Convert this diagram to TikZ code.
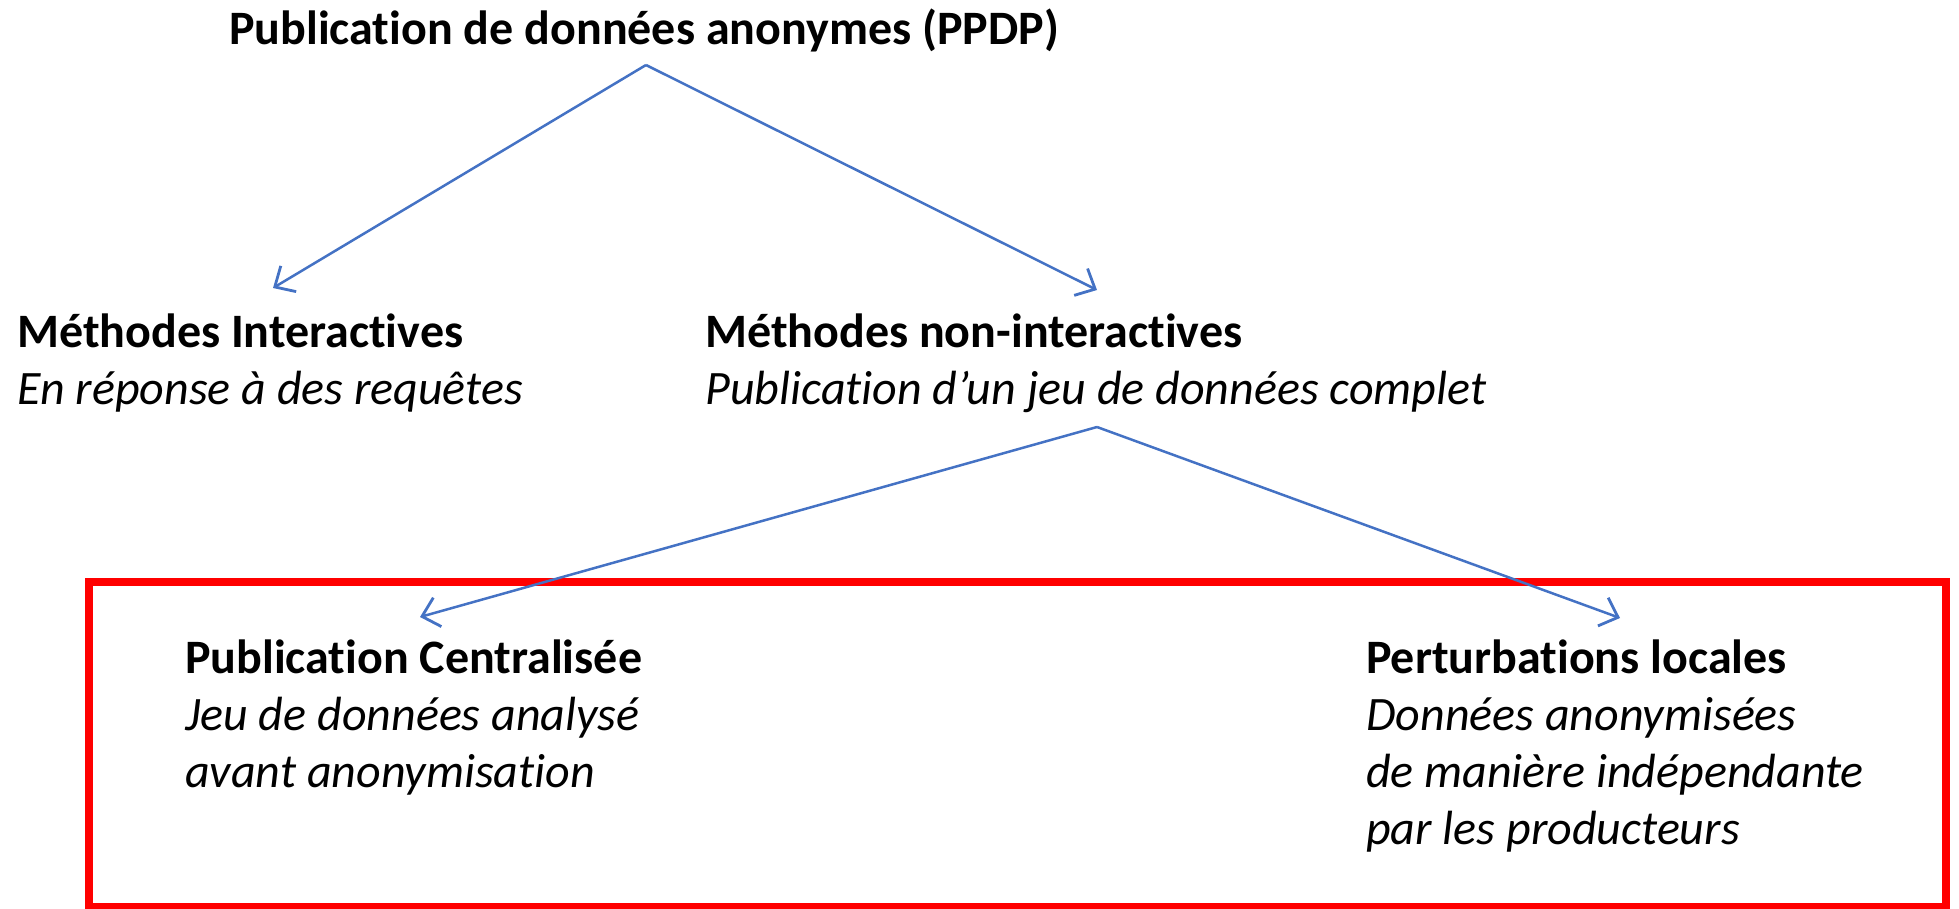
\documentclass[tikz,border=0pt]{standalone}
\usepackage{fontspec}
\setmainfont{Carlito}[RawFeature=-liga]
\usetikzlibrary{arrows.meta}
\definecolor{linkblue}{RGB}{68,114,196}
\definecolor{framered}{RGB}{255,0,0}
\begin{document}
\begin{tikzpicture}[x=1pt,y=-1pt,
  txt/.style={anchor=base west,inner sep=0pt,align=left,
    font=\fontsize{48}{57}\selectfont},
  link/.style={draw=linkblue,line width=2.5pt,
    -{Straight Barb[length=16pt,width=30pt,line width=2.8pt]}},
  frame/.style={draw=framered,line width=8pt}]
\useasboundingbox (0,0) rectangle (1959,908);

% highlighted family of non-interactive methods
\draw[frame] (89,582) rectangle (1945.5,907);

% headings (anchored at the baseline of their last line)
\node[txt] (ppdp) at (229,44) {\textbf{Publication de données anonymes (PPDP)}};
\node[txt] (inter) at (17,404) {\textbf{Méthodes Interactives}\\\textit{En réponse à des requêtes}};
\node[txt] (noninter) at (705,404) {\textbf{Méthodes non-interactives}\\\textit{Publication d’un jeu de données complet}};
\node[txt] (central) at (185,787) {\textbf{Publication Centralisée}\\\textit{Jeu de données analysé}\\\textit{avant anonymisation}};
\node[txt] (local) at (1366,844) {\textbf{Perturbations locales}\\\textit{Données anonymisées}\\\textit{de manière indépendante}\\\textit{par les producteurs}};

% branching points and arrow tips
\coordinate (ppdp-out) at (646,65);
\coordinate (inter-in) at (273,288);
\coordinate (noninter-in) at (1097,290);
\coordinate (noninter-out) at (1097,427);
\coordinate (central-in) at (420,617);
\coordinate (local-in) at (1620,618);

\draw[link] (ppdp-out) -- (inter-in);
\draw[link] (ppdp-out) -- (noninter-in);
\draw[link] (noninter-out) -- (central-in);
\draw[link] (noninter-out) -- (local-in);
\end{tikzpicture}
\end{document}
